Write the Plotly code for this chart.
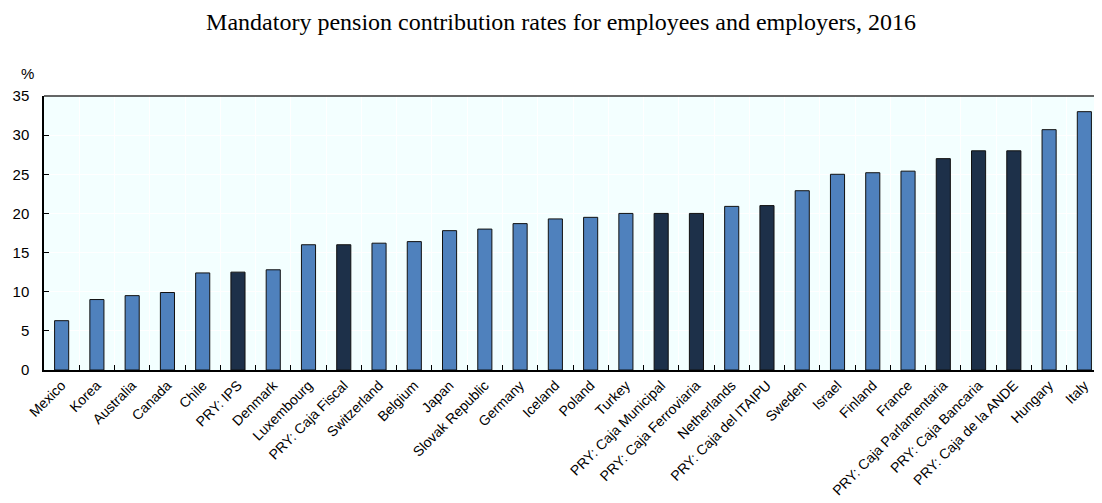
import plotly.graph_objects as go

categories = ["Mexico", "Korea", "Australia", "Canada", "Chile", "PRY: IPS", "Denmark",
              "Luxembourg", "PRY: Caja Fiscal", "Switzerland", "Belgium", "Japan",
              "Slovak Republic", "Germany", "Iceland", "Poland", "Turkey",
              "PRY: Caja Municipal", "PRY: Caja Ferroviaria", "Netherlands",
              "PRY: Caja del ITAIPU", "Sweden", "Israel", "Finland", "France",
              "PRY: Caja Parlamentaria", "PRY: Caja Bancaria", "PRY: Caja de la ANDE",
              "Hungary", "Italy"]
values = [6.3, 9.0, 9.5, 9.9, 12.4, 12.5, 12.8,
          16.0, 16.0, 16.2, 16.4, 17.8,
          18.0, 18.7, 19.3, 19.5, 20.0,
          20.0, 20.0, 20.9,
          21.0, 22.9, 25.0, 25.2, 25.4,
          27.0, 28.0, 28.0,
          30.7, 33.0]
y_ticks = [0, 5, 10, 15, 20, 25, 30, 35]

OECD_COLOR = "#4F81BD"
PRY_COLOR = "#1D3049"
colors = [PRY_COLOR if c.startswith("PRY") else OECD_COLOR for c in categories]

# page body has an 8px margin; compensate so the figure lines up with the window
OFF = 8
W, H = 1102 - OFF, 503 - OFF
L, R, T, B = 44 - OFF, 0, 96 - OFF, 503 - 370

fig = go.Figure(go.Bar(
    x=categories, y=values,
    marker=dict(color=colors, line=dict(color="#111111", width=1)),
    width=0.4,
))

fig.update_layout(
    width=W, height=H,
    margin=dict(l=L, r=R, t=T, b=B, autoexpand=False),
    paper_bgcolor="white",
    plot_bgcolor="#F3FFFF",
    showlegend=False,
    title=dict(
        text="Mandatory pension contribution rates for employees and employers, 2016",
        font=dict(family="Liberation Serif, Times New Roman, serif", size=24, color="black"),
        x=(561 - OFF) / W, xref="container", xanchor="center",
        y=1 - (22 - OFF) / H, yref="container", yanchor="middle",
    ),
    font=dict(family="Liberation Sans, Arial, sans-serif", size=13, color="black"),
    xaxis=dict(
        type="category",
        tickson="boundaries",
        ticks="inside", ticklen=5, tickcolor="black", tickwidth=1,
        showgrid=True, gridcolor="white", gridwidth=1,
        showline=True, linecolor="black", linewidth=1.5,
        tickangle=-45,
        tickfont=dict(size=14, family="Liberation Sans, Arial, sans-serif"),
        automargin=False,
        range=[-0.5, len(categories) - 0.5],
    ),
    yaxis=dict(
        range=[0, 35],
        tickvals=y_ticks,
        ticks="inside", ticklen=5, tickcolor="black",
        showgrid=True, gridcolor="white", gridwidth=1,
        showline=True, linecolor="black", linewidth=1.5,
        mirror=False, zeroline=False,
        tickfont=dict(size=15, family="Liberation Sans, Arial, sans-serif"),
        ticklabelstandoff=10,
        automargin=False,
    ),
    shapes=[dict(type="line", xref="paper", yref="paper", x0=0, x1=1, y0=1, y1=1,
                 line=dict(color="#333333", width=1.5))],
    annotations=[dict(text="%", xref="paper", yref="paper",
                      x=(27 - 44) / (W - L - R), y=1 + (96 - 73) / (H - T - B),
                      xanchor="center", yanchor="middle", showarrow=False,
                      font=dict(size=15, family="Liberation Sans, Arial, sans-serif"))],
    bargap=0.6,
)

fig.write_html("out.html")
